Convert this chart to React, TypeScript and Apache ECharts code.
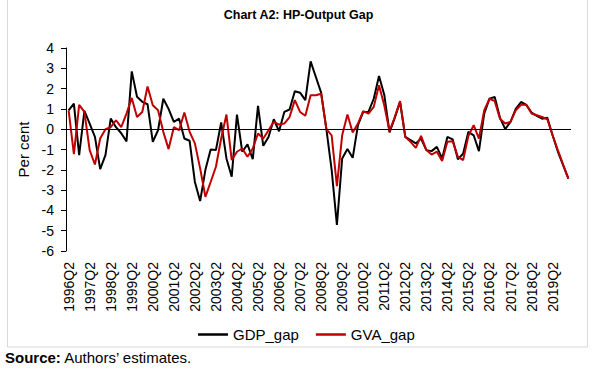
import React, { useEffect, useRef } from "react";
import * as echarts from "echarts";

const startYear = 1996;
const startQuarter = 2;
const quarterCount = 96;

function buildQuarters(): string[] {
  const out: string[] = [];
  let y = startYear;
  let q = startQuarter;
  for (let i = 0; i < quarterCount; i++) {
    out.push(`${y}Q${q}`);
    q++;
    if (q > 4) {
      q = 1;
      y++;
    }
  }
  return out;
}

const categories = buildQuarters();

const gdpGap = [
  0.93, 1.26, -1.28, 0.9, 0.28, -0.38, -1.97, -1.28, 0.52, 0.1, -0.2, -0.6,
  2.85, 1.6, 1.35, 1.23, -0.62, -0.05, 1.5, 1.0, 0.36, 0.52, -0.46, -0.57,
  -2.6, -3.54, -2.0, -1.0, -1.03, 0.33, -1.44, -2.34, 0.72, -1.11, -0.75, -1.48,
  1.15, -0.82, -0.38, 0.49, -0.1, 0.85, 0.97, 1.87, 1.8, 1.43, 3.34, 2.57,
  1.8, 0.0, -2.0, -4.72, -1.44, -0.98, -1.41, 0.2, 0.85, 0.85, 1.5, 2.62,
  1.7, -0.16, 0.56, 1.34, -0.38, -0.54, -0.7, -0.46, -1.03, -1.08, -0.87, -1.44,
  -0.38, -0.5, -1.48, -1.2, -0.13, -0.3, -1.08, 0.77, 1.5, 1.59, 0.56, 0.0,
  0.36, 1.0, 1.34, 1.2, 0.82, 0.66, 0.52, 0.56, -0.3, -1.1, -1.77, -2.43,
];

const gvaGap = [
  0.93, -1.23, 1.2, 0.85, -1.03, -1.74, -0.46, 0.0, 0.1, 0.44, 0.1, 0.77,
  1.54, 0.6, 0.85, 2.1, 1.18, 0.93, -0.13, -0.98, 0.1, -0.05, 0.82, -0.13,
  -0.7, -1.93, -3.33, -2.6, -1.85, -0.46, 0.72, -1.52, -1.11, -0.95, -1.36, -0.95,
  -0.21, -0.46, -0.05, 0.36, 0.23, 0.28, 0.6, 1.43, 0.85, 0.66, 1.67, 1.67,
  1.75, 0.0, -0.3, -2.8, -0.3, 0.72, -0.16, 0.28, 0.89, 0.77, 1.1, 2.16,
  1.18, -0.1, 0.6, 1.38, -0.38, -0.62, -0.92, -0.33, -1.03, -1.25, -1.11, -1.57,
  -0.62, -0.59, -1.36, -1.52, -0.33, 0.2, -0.46, 0.93, 1.5, 1.38, 0.52, 0.28,
  0.36, 0.93, 1.2, 1.2, 0.77, 0.69, 0.6, 0.49, -0.3, -1.03, -1.74, -2.43,
];

const FONT = "Arial, 'Liberation Sans', sans-serif";

export default function App() {
  const ref = useRef<HTMLDivElement>(null);

  useEffect(() => {
    if (!ref.current) return;
    const chart = echarts.init(ref.current, undefined, { renderer: "svg" });
    chart.setOption({
      animation: false,
      backgroundColor: "#ffffff",
      textStyle: { fontFamily: FONT, color: "#000" },
      title: {
        text: "Chart A2: HP-Output Gap",
        left: "center",
        top: 3,
        textStyle: { fontFamily: FONT, fontSize: 12.5, fontWeight: "bold", color: "#000" },
      },
      grid: { left: 66, right: 26, top: 48, bottom: 118 },
      legend: {
        left: 193,
        top: 322,
        icon: "rect",
        itemWidth: 30,
        itemHeight: 2.5,
        itemGap: 17,
        textStyle: { fontFamily: FONT, fontSize: 15, color: "#000" },
        data: ["GDP_gap", "GVA_gap"],
      },
      xAxis: {
        type: "category",
        data: categories,
        boundaryGap: true,
        axisLine: { show: false },
        axisTick: { show: false },
        splitLine: { show: false },
        axisLabel: {
          interval: 3,
          rotate: 90,
          margin: 11,
          fontSize: 14,
          fontFamily: FONT,
          color: "#000",
        },
      },
      yAxis: {
        type: "value",
        min: -6,
        max: 4,
        interval: 1,
        name: "Per cent",
        nameLocation: "middle",
        nameRotate: 90,
        nameGap: 32,
        nameTextStyle: { fontFamily: FONT, fontSize: 15, color: "#000" },
        axisLine: { show: true, lineStyle: { color: "#000", width: 1 } },
        axisTick: { show: true, inside: false, length: 5, lineStyle: { color: "#000" } },
        splitLine: { show: false },
        axisLabel: { margin: 12, fontSize: 14, fontFamily: FONT, color: "#000" },
      },
      graphic: [
        {
          type: "rect",
          silent: true,
          shape: { x: 7.5, y: -1, width: 580, height: 348 },
          style: { fill: "none", stroke: "#d9d9d9", lineWidth: 1 },
        },
        {
          type: "text",
          left: 5,
          top: 350,
          style: {
            text: "{b|Source:} Authors’ estimates.",
            font: `15px ${FONT}`,
            fill: "#000",
            rich: {
              b: { fontWeight: "bold", fontSize: 15, fontFamily: FONT, fill: "#000" },
            },
          },
        },
      ],
      series: [
        {
          name: "GDP_gap",
          type: "line",
          data: gdpGap,
          symbol: "none",
          lineStyle: { color: "#000000", width: 2 },
          itemStyle: { color: "#000000" },
          markLine: {
            silent: true,
            symbol: "none",
            label: { show: false },
            lineStyle: { color: "#000", width: 1, type: "solid" },
            data: [{ yAxis: 0 }],
          },
        },
        {
          name: "GVA_gap",
          type: "line",
          data: gvaGap,
          symbol: "none",
          lineStyle: { color: "#C00000", width: 2 },
          itemStyle: { color: "#C00000" },
        },
      ],
    });
    return () => chart.dispose();
  }, []);

  return (
    <div
      ref={ref}
      style={{ position: "fixed", left: 0, top: 0, width: 597, height: 369 }}
    />
  );
}
